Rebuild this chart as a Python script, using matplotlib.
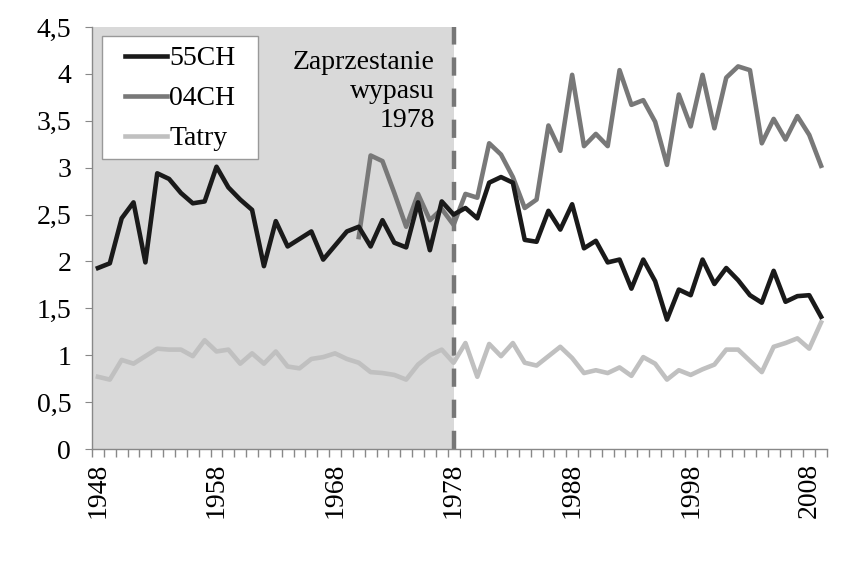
import matplotlib
matplotlib.use("Agg")
import matplotlib.pyplot as plt
from matplotlib.patches import Rectangle
import numpy as np

years = list(range(1948, 2010))

ch55 = [1.93, 1.98, 2.46, 2.63, 1.99, 2.94, 2.88, 2.73, 2.62, 2.64,
        3.01, 2.79, 2.66, 2.55, 1.95, 2.43, 2.16, 2.24, 2.32, 2.02,
        2.17, 2.32, 2.37, 2.16, 2.44, 2.20, 2.15, 2.63, 2.12, 2.64,
        2.50, 2.57, 2.46, 2.84, 2.90, 2.84, 2.23, 2.21, 2.54, 2.34,
        2.61, 2.14, 2.22, 1.99, 2.02, 1.71, 2.02, 1.79, 1.38, 1.70,
        1.64, 2.02, 1.76, 1.93, 1.80, 1.64, 1.56, 1.90, 1.57, 1.63,
        1.64, 1.41]

ch04_years = list(range(1970, 2010))
ch04 = [2.26, 3.13, 3.07, 2.73, 2.37, 2.72, 2.44, 2.56, 2.39, 2.72,
        2.68, 3.26, 3.14, 2.90, 2.57, 2.66, 3.45, 3.18, 3.99, 3.23,
        3.36, 3.23, 4.04, 3.67, 3.72, 3.49, 3.03, 3.78, 3.44, 3.99,
        3.42, 3.96, 4.08, 4.04, 3.26, 3.52, 3.30, 3.55, 3.35, 3.02]

tatry = [0.77, 0.74, 0.95, 0.91, 0.99, 1.07, 1.06, 1.06, 0.99, 1.16,
         1.04, 1.06, 0.91, 1.02, 0.91, 1.04, 0.88, 0.86, 0.96, 0.98,
         1.02, 0.96, 0.92, 0.82, 0.81, 0.79, 0.74, 0.90, 1.00, 1.06,
         0.92, 1.13, 0.77, 1.12, 0.99, 1.13, 0.92, 0.89, 0.99, 1.09,
         0.97, 0.81, 0.84, 0.81, 0.87, 0.78, 0.98, 0.91, 0.74, 0.84,
         0.79, 0.85, 0.90, 1.06, 1.06, 0.94, 0.82, 1.09, 1.13, 1.18,
         1.07, 1.35]

label_years = [1948, 1958, 1968, 1978, 1988, 1998, 2008]
yticks = [0, 0.5, 1, 1.5, 2, 2.5, 3, 3.5, 4, 4.5]
ytick_labels = ["0", "0,5", "1", "1,5", "2", "2,5", "3", "3,5", "4", "4,5"]
event_year = 1978
annotation = "Zaprzestanie\nwypasu\n1978"

plt.rcParams['font.family'] = ['Liberation Serif', 'DejaVu Serif']
FS = 20

fig = plt.figure(figsize=(8.49, 5.64), dpi=100)
ax = fig.add_axes([0.1084, 0.2039, 0.8657, 0.7482])

x0, x1 = years[0] - 0.5, years[-1] + 0.5
ax.set_xlim(x0, x1)
ax.set_ylim(0, 4.5)

ax.axvspan(x0, event_year, color='#d9d9d9', zorder=0, lw=0)
ax.axvline(event_year, color='#777777', lw=3.2, ls=(0, (4.1, 2.9)), zorder=1)

lw = 3.3
l1, = ax.plot(years, ch55, color='#1a1a1a', lw=lw, zorder=4, label='55CH')
l2, = ax.plot(ch04_years, ch04, color='#787878', lw=lw, zorder=3, label='04CH')
l3, = ax.plot(years, tatry, color='#c0c0c0', lw=lw, zorder=2, label='Tatry')

for s in ['top', 'right']:
    ax.spines[s].set_visible(False)
for s in ['left', 'bottom']:
    ax.spines[s].set_color('#888888')
    ax.spines[s].set_linewidth(1.0)

ax.set_yticks(yticks)
ax.set_yticklabels(ytick_labels)
ax.tick_params(axis='y', direction='out', length=5, color='#888888',
               labelsize=FS, pad=10)

ax.set_xticks(label_years)
ax.set_xticklabels([str(y) for y in label_years], rotation=90)
ax.set_xticks(np.arange(x0, x1 + 0.01, 1.0), minor=True)
ax.tick_params(axis='x', which='major', length=0, labelsize=FS, pad=10)
ax.tick_params(axis='x', which='minor', direction='out', length=6,
               color='#888888', width=1.0)

# legend frame (white box) and frameless legend inside
ax.add_patch(Rectangle((0.0136, 0.687), 0.2122, 0.2915, transform=ax.transAxes,
                       facecolor='white', edgecolor='#999999', lw=1.0,
                       zorder=6))
leg = ax.legend(handles=[l1, l2, l3], loc='upper left',
                bbox_to_anchor=(0.0449, 0.955), fontsize=FS, frameon=False,
                handlelength=1.5, handletextpad=0.1, borderpad=0.0,
                labelspacing=0.52, borderaxespad=0.0)
leg.set_zorder(7)

ax.text(1976.43, 4.25, annotation, ha='right', va='top', fontsize=FS,
        linespacing=1.2, zorder=5)

fig.savefig('out.png', dpi=100)
